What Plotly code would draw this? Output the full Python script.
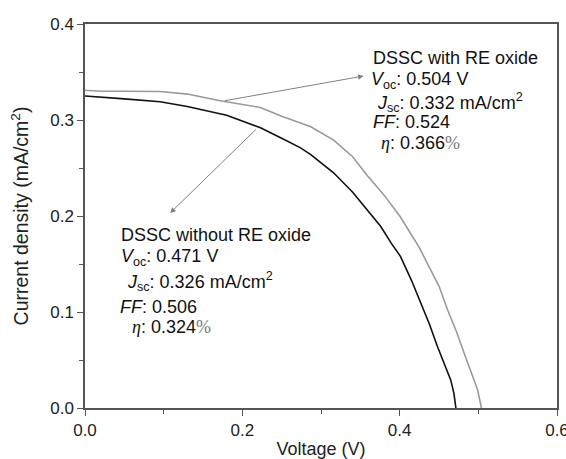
import plotly.graph_objects as go

# ---- data ----
v_with = [0, 0.02, 0.05, 0.0955, 0.13, 0.172, 0.223, 0.25, 0.274, 0.287, 0.316, 0.34,
          0.359, 0.38, 0.401, 0.425, 0.435, 0.45, 0.461, 0.472, 0.482, 0.492, 0.499, 0.504]
j_with = [0.331, 0.330, 0.330, 0.3297, 0.327, 0.320, 0.313, 0.304, 0.297, 0.293, 0.279, 0.262,
          0.242, 0.222, 0.199, 0.167, 0.151, 0.127, 0.102, 0.080, 0.057, 0.035, 0.019, 0.0]

v_without = [0, 0.02, 0.05, 0.0955, 0.13, 0.18, 0.223, 0.25, 0.274, 0.287, 0.316, 0.34,
             0.359, 0.376, 0.389, 0.401, 0.415, 0.427, 0.438, 0.448, 0.457, 0.465, 0.469, 0.4715]
j_without = [0.325, 0.324, 0.322, 0.319, 0.314, 0.305, 0.292, 0.281, 0.271, 0.264, 0.245, 0.225,
             0.206, 0.189, 0.172, 0.158, 0.133, 0.109, 0.087, 0.064, 0.046, 0.029, 0.015, 0.0]

x_ticks = [0.0, 0.2, 0.4, 0.6]
y_ticks = [0.0, 0.1, 0.2, 0.3, 0.4]

label_with = ["DSSC with RE oxide",
              "<i>V</i><sub>oc</sub>: 0.504 V",
              "<i>J</i><sub>sc</sub>: 0.332 mA/cm<sup>2</sup>",
              "<i>FF</i>: 0.524",
              "<span style='font-family:Liberation Serif'><i>η</i></span>: 0.366<span style='font-family:Liberation Serif;color:#777'>%</span>"]
label_without = ["DSSC without RE oxide",
                 "<i>V</i><sub>oc</sub>: 0.471 V",
                 "<i>J</i><sub>sc</sub>: 0.326 mA/cm<sup>2</sup>",
                 "<i>FF</i>: 0.506",
                 "<span style='font-family:Liberation Serif'><i>η</i></span>: 0.324<span style='font-family:Liberation Serif;color:#777'>%</span>"]

# label positions (pixel-derived, converted to data coords)
def px2v(x):
    return (x - 85) / 785.0

def px2j(y):
    return (408 - y) / 960.0

pos_with = [(370, 58), (368, 80), (374, 102), (370, 122), (378, 143)]
pos_without = [(119, 235), (119, 257), (125, 281), (118, 307), (130, 327)]

FONT = "Arial, Liberation Sans, sans-serif"

fig = go.Figure()
fig.add_trace(go.Scatter(x=v_with, y=j_with, mode="lines",
                         line=dict(color="#9a9a9a", width=1.6), showlegend=False))
fig.add_trace(go.Scatter(x=v_without, y=j_without, mode="lines",
                         line=dict(color="#111111", width=1.6), showlegend=False))

ann = []
for txt, (px, py) in zip(label_with, pos_with):
    ann.append(dict(x=px2v(px), y=px2j(py), xref="x", yref="y", text=txt, showarrow=False,
                    xanchor="left", yanchor="middle", font=dict(family=FONT, size=18, color="#111")))
for txt, (px, py) in zip(label_without, pos_without):
    ann.append(dict(x=px2v(px), y=px2j(py), xref="x", yref="y", text=txt, showarrow=False,
                    xanchor="left", yanchor="middle", font=dict(family=FONT, size=18, color="#111")))

# arrows: head at label, tail on curve
ann.append(dict(x=px2v(363), y=px2j(76), ax=px2v(223), ay=px2j(101), xref="x", yref="y",
                axref="x", ayref="y", text="", showarrow=True, arrowhead=2, arrowsize=1.1,
                arrowwidth=1, arrowcolor="#808080", standoff=0, startstandoff=0))
ann.append(dict(x=px2v(170), y=px2j(213), ax=px2v(257), ay=px2j(128), xref="x", yref="y",
                axref="x", ayref="y", text="", showarrow=True, arrowhead=2, arrowsize=1.1,
                arrowwidth=1, arrowcolor="#808080", standoff=0, startstandoff=0))

axis_common = dict(showline=True, linecolor="#555", linewidth=1.5, mirror=True, automargin=False,
                   showgrid=False, zeroline=False, ticks="outside", ticklen=6, tickwidth=1.3,
                   ticklabeloverflow="allow",
                   tickcolor="#555", tickfont=dict(family=FONT, size=17, color="#222"))

fig.update_layout(
    width=566, height=459,
    margin=dict(l=85, r=9, t=24, b=51),
    paper_bgcolor="white", plot_bgcolor="white",
    annotations=ann,
    xaxis=dict(range=[0, 0.6], tickvals=x_ticks, tickformat=".1f",
               minor=dict(dtick=0.1, ticks="outside", ticklen=4, tickcolor="#555", tickwidth=1.2),
               title=dict(text="Voltage (V)", standoff=3,
                          font=dict(family=FONT, size=18, color="#222")), **axis_common),
    yaxis=dict(range=[0, 0.4], tickvals=y_ticks, tickformat=".1f",
               minor=dict(dtick=0.05, ticks="outside", ticklen=4, tickcolor="#555", tickwidth=1.2),
               title=dict(text="Current density (mA/cm<sup>2</sup>)", standoff=16,
                          font=dict(family=FONT, size=19.5, color="#222")), **axis_common),
)

fig.write_html("out.html", config={"displayModeBar": False},
               post_script="document.body.style.margin='0';document.body.style.overflow='hidden';")
